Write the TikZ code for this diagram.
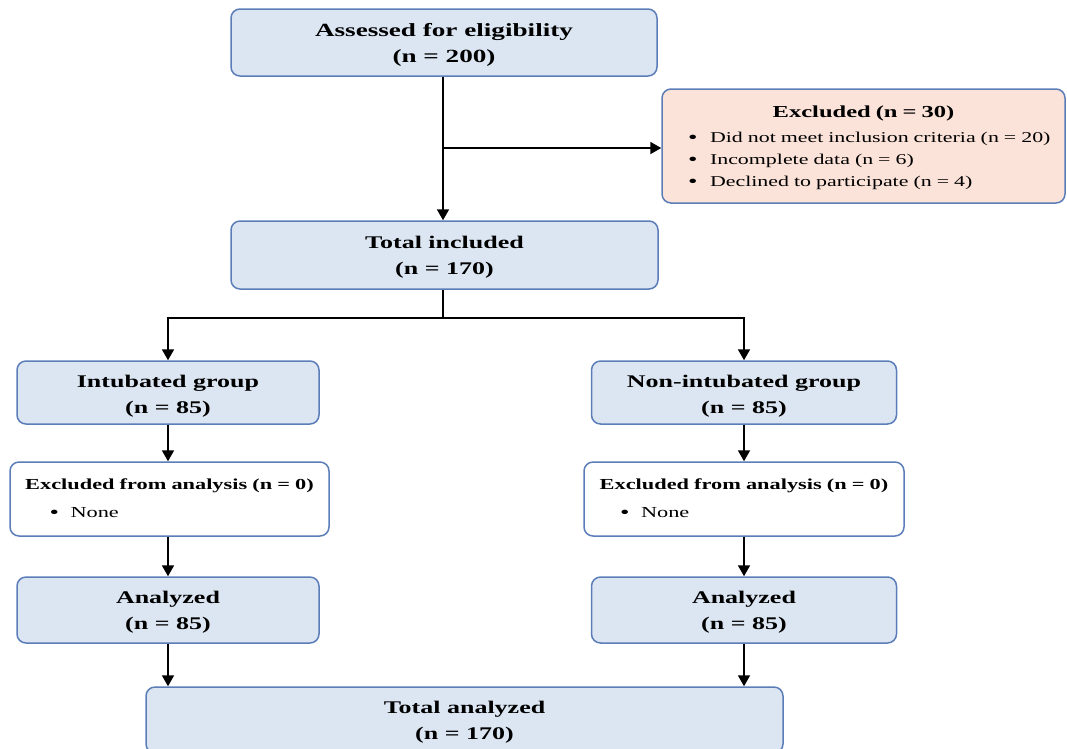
\documentclass[tikz,border=0pt]{standalone}
\usepackage{fontspec}
\setmainfont{Liberation Serif}
\newfontfamily\wideserif[FakeStretch=1.46]{Liberation Serif}
\usetikzlibrary{arrows.meta}

\definecolor{boxblue}{HTML}{DCE6F2}
\definecolor{boxpink}{HTML}{FBE3D9}
\definecolor{boxedge}{HTML}{5B7DB8}

\newcommand\tstrut{\rule{0pt}{17.5pt}}
\newcommand\bigbul{\raisebox{-1pt}{\fontsize{18.5}{18.5}\selectfont\textbullet}}

\tikzset{
  base/.style={draw=boxedge, line width=1.5pt, rounded corners=9pt, inner sep=0pt, align=center},
  bluebox/.style={base, fill=boxblue, font=\wideserif\bfseries\fontsize{17.8}{26}\selectfont},
  whitebox/.style={base, fill=white, align=left, text width=300pt, font=\wideserif\fontsize{15.3}{28}\selectfont},
  pinkbox/.style={base, fill=boxpink, align=left, text width=375pt, font=\wideserif\fontsize{15}{22}\selectfont},
  conn/.style={line width=1.8pt, black},
  arr/.style={conn, -{Triangle[width=12pt,length=11pt]}},
}

\begin{document}
\begin{tikzpicture}[x=1pt,y=-1pt]
\useasboundingbox (0,0) rectangle (1067,748);

\node[bluebox, minimum width=426pt, minimum height=67pt, font=\wideserif\bfseries\fontsize{18.6}{26}\selectfont]
  (assess) at (444,42.5) {\tstrut Assessed for eligibility\\(n = 200)};

\node[pinkbox, minimum width=403pt, minimum height=114pt] (excl) at (863.5,146)
  {\rule{0pt}{16pt}\makebox[\linewidth][c]{\fontsize{16.8}{22}\selectfont\bfseries Excluded (n = 30)}\\[3pt]
   \hspace*{12pt}\makebox[22pt][l]{\bigbul}Did not meet inclusion criteria (n = 20)\\
   \hspace*{12pt}\makebox[22pt][l]{\bigbul}Incomplete data (n = 6)\\
   \hspace*{12pt}\makebox[22pt][l]{\bigbul}Declined to participate (n = 4)};

\node[bluebox, minimum width=427pt, minimum height=68pt] (incl) at (444.5,255) {\tstrut Total included\\(n = 170)};

\node[bluebox, minimum width=302pt, minimum height=63pt] (intub) at (168,392.5) {\rule{0pt}{19pt}Intubated group\\(n = 85)};
\node[bluebox, minimum width=305pt, minimum height=63pt] (nonint) at (744,392.5) {\rule{0pt}{19pt}Non-intubated group\\(n = 85)};

\node[whitebox, minimum width=319pt, minimum height=74pt] (exL) at (169.5,499)
  {\makebox[\linewidth][c]{\bfseries Excluded from analysis (n = 0)}\\
   \hspace*{30pt}\makebox[21pt][l]{\bigbul}None};
\node[whitebox, minimum width=320pt, minimum height=74pt] (exR) at (744,499)
  {\makebox[\linewidth][c]{\bfseries Excluded from analysis (n = 0)}\\
   \hspace*{26pt}\makebox[21pt][l]{\bigbul}None};

\node[bluebox, minimum width=302pt, minimum height=66pt] (anL) at (168,610) {\tstrut Analyzed\\(n = 85)};
\node[bluebox, minimum width=305pt, minimum height=66pt] (anR) at (744,610) {\tstrut Analyzed\\(n = 85)};

\node[bluebox, minimum width=637pt, minimum height=66pt] (total) at (464.5,720) {\tstrut Total analyzed\\(n = 170)};

\coordinate (exsplit) at (443,148);
\coordinate (split) at (443,318);

\draw[arr] (assess.south -| exsplit) -- (incl.north -| exsplit);
\draw[arr] (exsplit) -- (exsplit -| excl.west);
\draw[conn] (incl.south -| split) -- (split);
\draw[arr] (split) -| (intub.north);
\draw[arr] (split) -| (nonint.north);
\draw[arr] (intub.south) -- (intub.south |- exL.north);
\draw[arr] (nonint) -- (exR);
\draw[arr] (intub.south |- exL.south) -- (anL.north);
\draw[arr] (exR) -- (anR);
\draw[arr] (anL.south) -- (anL.south |- total.north);
\draw[arr] (anR.south) -- (anR.south |- total.north);
\end{tikzpicture}
\end{document}
